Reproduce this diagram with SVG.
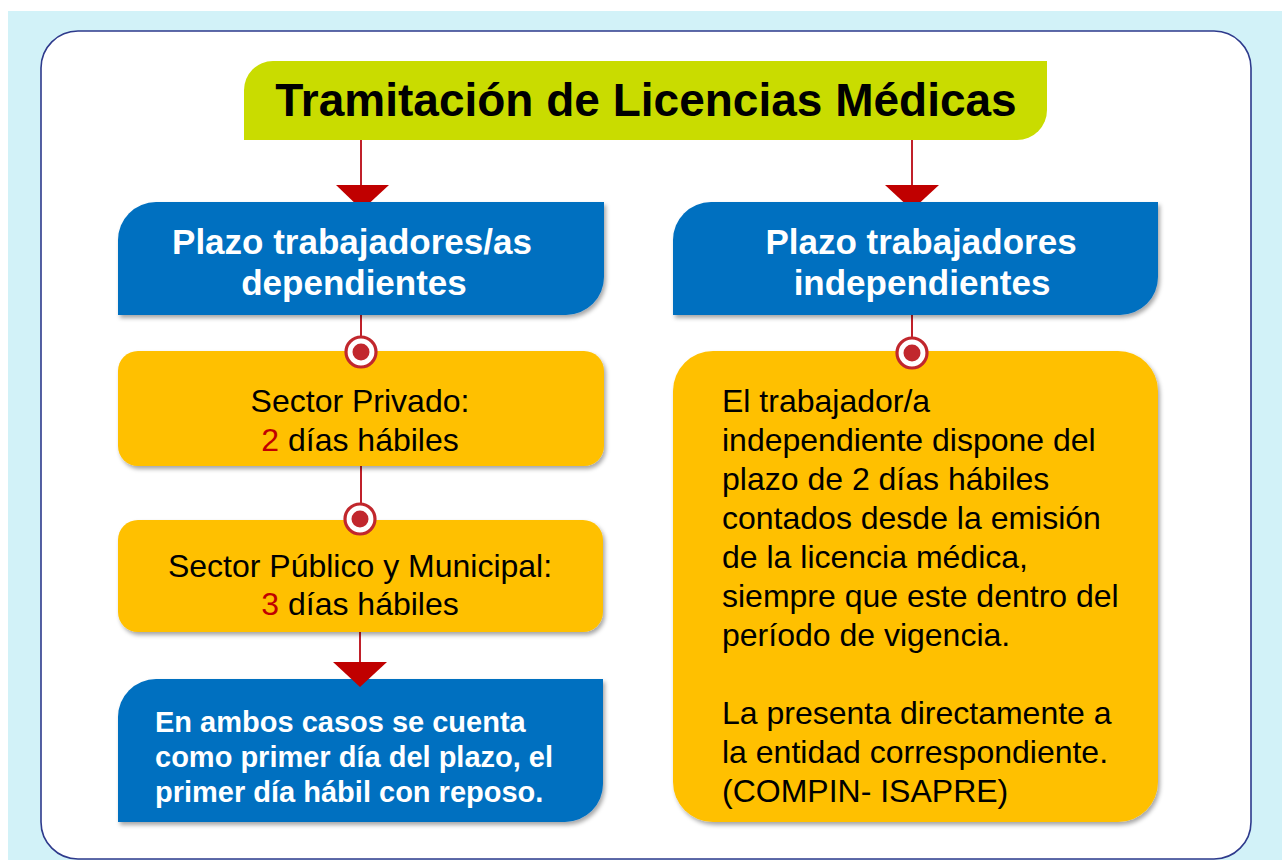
<svg xmlns="http://www.w3.org/2000/svg" width="1282" height="860" viewBox="0 0 1282 860">
<defs>
<style>
.bg{fill:#d2f2f8}
.frame{fill:#ffffff;stroke:#2e3a8c;stroke-width:1.6}
.title{fill:#c9dc00}
.blue{fill:#0070c0}
.yel{fill:#ffc000}
.t{font-family:"Liberation Sans",Arial,sans-serif}
.tt{font-size:46px;font-weight:bold;fill:#000;text-anchor:middle}
.hd{font-size:35px;font-weight:bold;fill:#fff;text-anchor:middle}
.yt{font-size:32px;fill:#000;text-anchor:middle}
.yl{font-size:32px;fill:#000}
.bt{font-size:29px;font-weight:bold;fill:#fff}
.red{fill:#c00000}
.ln{stroke:#c0202a;stroke-width:2;fill:none}
.tri{fill:#c00000}
.ring{fill:#fff;stroke:#c1272d;stroke-width:3.2}
.dot{fill:#c1272d}
</style>
<filter id="sh" x="-5%" y="-5%" width="115%" height="120%">
<feDropShadow dx="2" dy="3" stdDeviation="2" flood-color="#000" flood-opacity="0.35"/>
</filter>
</defs>
<rect class="bg" x="8" y="11" width="1274" height="849"/>
<rect class="frame" x="41" y="31" width="1210" height="828" rx="37" ry="37"/>

<g id="connectors">
<line class="ln" x1="361" y1="140" x2="361" y2="190"/>
<polygon class="tri" points="336,185 389,185 362,210"/>
<line class="ln" x1="912" y1="140" x2="912" y2="190"/>
<polygon class="tri" points="885,185 939,185 912,210"/>
<line class="ln" x1="361" y1="315" x2="361" y2="340"/>
<line class="ln" x1="361" y1="466" x2="361" y2="506"/>
<line class="ln" x1="360" y1="632" x2="360" y2="668"/>
<line class="ln" x1="912" y1="315" x2="912" y2="340"/>
</g>

<g id="title">
<path class="title" d="M273,61 H1047 V110 A30,30 0 0 1 1017,140 H244 V90 A29,29 0 0 1 273,61 Z"/>
<text class="t tt" x="646" y="116">Tramitación de Licencias Médicas</text>
</g>

<g id="hdr-dep">
<path class="blue" filter="url(#sh)" d="M156,202 H604 V277 A38,38 0 0 1 566,315 H118 V240 A38,38 0 0 1 156,202 Z"/>
<text class="t hd" x="352" y="254">Plazo trabajadores/as</text>
<text class="t hd" x="354" y="295">dependientes</text>
</g>

<g id="hdr-ind">
<path class="blue" filter="url(#sh)" d="M711,202 H1158 V277 A38,38 0 0 1 1120,315 H673 V240 A38,38 0 0 1 711,202 Z"/>
<text class="t hd" x="921" y="254">Plazo trabajadores</text>
<text class="t hd" x="922" y="295">independientes</text>
</g>

<g id="privado">
<rect class="yel" filter="url(#sh)" x="118" y="351" width="486" height="115" rx="20" ry="20"/>
<text class="t yt" x="360" y="412">Sector Privado:</text>
<text class="t yt" x="360" y="451"><tspan class="red">2</tspan> días hábiles</text>
</g>

<g id="publico">
<rect class="yel" filter="url(#sh)" x="118" y="520" width="485" height="112" rx="20" ry="20"/>
<text class="t yt" x="360" y="577">Sector Público y Municipal:</text>
<text class="t yt" x="360" y="615"><tspan class="red">3</tspan> días hábiles</text>
</g>

<g id="ambos">
<path class="blue" filter="url(#sh)" d="M156,679 H603 V784 A38,38 0 0 1 565,822 H118 V717 A38,38 0 0 1 156,679 Z"/>
<text class="t bt" x="155" y="732">En ambos casos se cuenta</text>
<text class="t bt" x="155" y="767">como primer día del plazo, el</text>
<text class="t bt" x="155" y="802">primer día hábil con reposo.</text>
</g>

<g id="independiente">
<rect class="yel" filter="url(#sh)" x="673" y="351" width="485" height="471" rx="40" ry="40"/>
<text class="t yl" x="722" y="412">El trabajador/a</text>
<text class="t yl" x="722" y="451">independiente dispone del</text>
<text class="t yl" x="722" y="490">plazo de 2 días hábiles</text>
<text class="t yl" x="722" y="529">contados desde la emisión</text>
<text class="t yl" x="722" y="568">de la licencia médica,</text>
<text class="t yl" x="722" y="607">siempre que este dentro del</text>
<text class="t yl" x="722" y="646">período de vigencia.</text>
<text class="t yl" x="722" y="724">La presenta directamente a</text>
<text class="t yl" x="722" y="763">la entidad correspondiente.</text>
<text class="t yl" x="722" y="802">(COMPIN- ISAPRE)</text>
</g>

<g id="markers">
<polygon class="tri" points="333,662 387,662 360,687"/>
<circle class="ring" cx="361" cy="352" r="15"/>
<circle class="dot" cx="361" cy="352" r="8.5"/>
<circle class="ring" cx="360" cy="519" r="15"/>
<circle class="dot" cx="360" cy="519" r="8.5"/>
<circle class="ring" cx="912" cy="353" r="15"/>
<circle class="dot" cx="912" cy="353" r="8.5"/>
</g>
</svg>
